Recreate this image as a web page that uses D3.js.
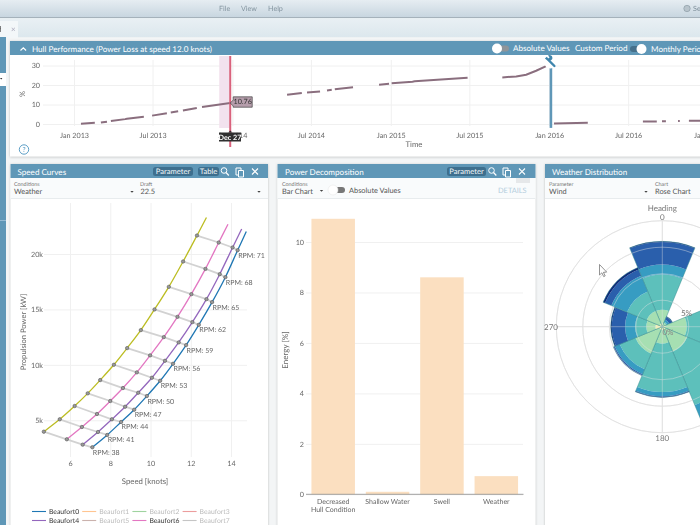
<!DOCTYPE html>
<html>
<head>
<meta charset="utf-8">
<script src="https://cdn.jsdelivr.net/npm/d3@7"></script>
<style>
html, body { margin: 0; padding: 0; width: 700px; height: 525px; overflow: hidden; background: #f3f5f6; }
text { font-family: Lato, sans-serif; text-rendering: geometricPrecision; }
#app { filter: blur(0.3px); }
</style>
</head>
<body>
<svg id="app" width="700" height="525"></svg>
<script>
// hull performance runs, null value = gap in the line
const hullRun2013 = [["2013-01-17",0.1],["2013-02-18",0.6],["2013-03-04",null],["2013-03-04",0.8],["2013-03-18",1.2],["2013-03-27",null],["2013-03-27",1.5],["2013-04-29",2.5],["2013-05-03",2.7],["2013-06-11",3.7],["2013-06-30",null],["2013-06-30",4.3],["2013-08-03",5.5],["2013-08-12",null],["2013-08-12",5.9],["2013-08-29",6.5],["2013-09-09",null],["2013-09-09",6.9],["2013-10-11",8.2],["2013-10-23",null],["2013-10-23",8.7],["2013-12-27",10.76]];
const hullRun2014 = [["2014-05-07",15],["2014-06-10",15.9],["2014-06-22",null],["2014-06-22",16.2],["2014-07-22",16.7],["2014-08-07",null],["2014-08-07",17.2],["2014-08-18",17.6],["2014-08-25",null],["2014-08-25",17.8],["2014-10-06",18.9]];
const hullRun2015 = [["2014-12-05",20.1],["2014-12-28",20.6],["2015-01-03",null],["2015-01-03",20.9],["2015-02-20",21.7],["2015-02-25",21.9],["2015-06-27",23.7]];
const hullRunDock = [["2015-09-15",23.9],["2015-10-17",24.4],["2015-11-09",25.3],["2015-12-02",27.3],["2015-12-25",29.7]];
const hullRun2016 = [["2016-01-12",0.2],["2016-03-30",0.7],["2016-04-10",null],["2016-08-04",1.3],["2016-09-05",1.3],["2016-09-10",null],["2016-09-17",1.4],["2016-09-26",1.4],["2016-10-10",null],["2016-10-24",1.6],["2016-10-28",1.6],["2016-11-05",null],["2016-11-18",1.7],["2016-12-18",1.7]];
const hullTicks = ["2013-01-01","2013-07-01","2014-01-01","2014-07-01","2015-01-01","2015-07-01","2016-01-01","2016-07-01","2017-01-01"];
const hullPctTicks = [0,10,20,30];
const dockingDate = "2016-01-05";
const selectedDate = "2013-12-27";
const selectedValue = 10.76;

// speed curves, one point per rpm (last value of each list is the curve end)
const rpmValues = [38,41,44,47,50,53,56,59,62,65,68,71];
const speedB8 = [4.70,5.49,6.23,6.88,7.50,8.18,8.84,9.52,10.20,10.91,11.62,12.31,12.78];
const powerB8 = [3973,5090,6288,7432,8631,10009,11514,13135,15000,17036,19324,21667,23290];
const speedB6 = [5.84,6.59,7.34,8.00,8.63,9.32,9.98,10.66,11.34,12.03,12.73,13.39,13.85];
const powerB6 = [3288,4396,5568,6739,7910,9324,10856,12505,14333,16378,18658,21036,22685];
const speedB4 = [6.63,7.39,8.08,8.74,9.39,10.07,10.72,11.40,12.08,12.78,13.44,14.08,14.53];
const powerB4 = [2802,3946,5090,6225,7486,8838,10369,12027,13856,15928,18180,20586,22260];
const speedB0 = [7.11,7.85,8.54,9.19,9.82,10.48,11.12,11.77,12.40,13.06,13.72,14.33,14.76];
const powerB0 = [2568,3676,4847,5955,7189,8568,10099,11784,13613,15658,17910,20342,22030];
const speedTicks = [6,8,10,12,14];
const powerTicks = [5000,10000,15000,20000];
const legendNames = ["Beaufort0","Beaufort1","Beaufort2","Beaufort3","Beaufort4","Beaufort5","Beaufort6","Beaufort7"];
const legendColors = ["#1f77b4","#ff7f0e","#2ca02c","#d62728","#9467bd","#8c564b","#e377c2","#7f7f7f"];
const legendActive = ["Beaufort0","Beaufort4","Beaufort6"];

// power decomposition
const lossNames = ["Decreased Hull Condition","Shallow Water","Swell","Weather"];
const lossValues = [10.92,0.1,8.6,0.72];
const energyTicks = [0,2,4,6,8,10];

// wind rose, percent per heading sector
const roseHeadings = [0,45,90,135,180,225,270,315];
const roseBand1 = [0.6,0.4,0.6,0.6,0.6,0.6,1.3,0.6];
const roseBand2 = [2.6,0.4,4.0,4.5,2.6,4.9,1.7,2.6];
const roseBand3 = [6.6,0.2,13.4,10.9,9.1,3.2,2.1,4.0];
const roseBand4 = [1.9,0.4,3.8,3.8,0.8,1.0,1.9,3.2];
const roseBand5 = [4.3,0.6,1.9,2.5,0.1,0.2,2.5,1.3];
const roseBand6 = [0.1,0.1,0.2,0.2,0.1,0.1,0.2,0.4];
const roseRings = [5,10,15,20];

const HEAD = "#5f97b7", GREY = "#666", GRID = "#f0f0f0";
const svg = d3.select("#app");
const parse = d3.timeParse("%Y-%m-%d");

function txt(g, x, y, s, size, fill, anchor) {
  return g.append("text").attr("x", x).attr("y", y).text(s)
    .attr("font-size", size).attr("fill", fill || GREY).attr("text-anchor", anchor || "start");
}

// window chrome
const defs = svg.append("defs");
const topGrad = defs.append("linearGradient").attr("id", "topbar").attr("x2", 0).attr("y2", 1);
topGrad.append("stop").attr("offset", 0).attr("stop-color", "#e6edf2");
topGrad.append("stop").attr("offset", 1).attr("stop-color", "#c8d6e0");
const tabGrad = defs.append("linearGradient").attr("id", "tabbar").attr("x2", 0).attr("y2", 1);
tabGrad.append("stop").attr("offset", 0).attr("stop-color", "#e9f0f4");
tabGrad.append("stop").attr("offset", 1).attr("stop-color", "#dce7ed");
const shadow = defs.append("filter").attr("id", "shadow").attr("x", "-2%").attr("y", "-2%").attr("width", "104%").attr("height", "104%");
shadow.append("feDropShadow").attr("dx", 0).attr("dy", 0.5).attr("stdDeviation", 0.8).attr("flood-color", "#999").attr("flood-opacity", 0.6);

svg.append("rect").attr("width", 700).attr("height", 17).attr("fill", "url(#topbar)");
svg.append("rect").attr("y", 17).attr("width", 700).attr("height", 1.2).attr("fill", "#a5b2bb");
svg.append("rect").attr("y", 18.2).attr("width", 700).attr("height", 19).attr("fill", "url(#tabbar)");
svg.append("rect").attr("y", 21).attr("width", 18).attr("height", 17).attr("fill", "#f3f7f9");
txt(svg, -3, 32, "d", 8, "#555");
txt(svg, 11, 32, "×", 8, "#aab");
[["File",219],["View",241],["Help",268]].forEach(d => txt(svg, d[1], 11, d[0], 7.2, "#8495a0"));
svg.append("circle").attr("cx", 687).attr("cy", 8.5).attr("r", 3.2).attr("fill", "#b8c4cc").attr("stroke", "#8495a0").attr("stroke-width", 0.6);
txt(svg, 693, 11, "Se", 7.2, "#7d8e99");
svg.append("rect").attr("y", 37).attr("width", 6).attr("height", 488).attr("fill", HEAD);
svg.append("rect").attr("y", 73).attr("width", 6).attr("height", 13).attr("fill", "#fff");
svg.append("path").attr("d", "M0,78h2.4l-1.2,1.6z").attr("fill", "#333");
svg.append("rect").attr("y", 220).attr("width", 6).attr("height", 0.5).attr("fill", "#cde");

function panel(x, y, w, h) {
  const g = svg.append("g");
  g.append("rect").attr("x", x).attr("y", y).attr("width", w).attr("height", h).attr("fill", "#fff").attr("filter", "url(#shadow)");
  g.append("rect").attr("x", x).attr("y", y).attr("width", w).attr("height", 14).attr("fill", HEAD);
  return g;
}

function button(g, x, w, s) {
  g.append("rect").attr("x", x).attr("y", 167).attr("width", w).attr("height", 9).attr("rx", 2.5).attr("fill", "#3e6f8e");
  txt(g, x + w / 2, 174.3, s, 7.6, "#f2f6f8", "middle");
}

function icons(g, xs) {
  // magnifier, copy, close
  g.append("circle").attr("cx", xs[0]).attr("cy", 170.5).attr("r", 2.8).attr("fill", "none").attr("stroke", "#fff").attr("stroke-width", 1);
  g.append("path").attr("d", `M${xs[0] + 2},${172.5}l2.8,3`).attr("stroke", "#fff").attr("stroke-width", 1.2);
  g.append("path").attr("d", `M${xs[1] - 4},${168}h5v7h-5z`).attr("fill", "none").attr("stroke", "#fff").attr("stroke-width", 1);
  g.append("path").attr("d", `M${xs[1] - 1.5},${170.5}h5v6.5h-5z`).attr("fill", HEAD).attr("stroke", "#fff").attr("stroke-width", 1);
  g.append("path").attr("d", `M${xs[2] - 3},${168.5}l6,6m0,-6l-6,6`).attr("stroke", "#fff").attr("stroke-width", 1.1);
}

function controls(g, x, w) {
  g.append("rect").attr("x", x).attr("y", 178).attr("width", w).attr("height", 21).attr("fill", "#f9fbfc");
  g.append("rect").attr("x", x).attr("y", 198).attr("width", w).attr("height", 1).attr("fill", "#e8ecee");
}

function caret(g, x, y) {
  g.append("path").attr("d", `M${x - 1.7},${y}h3.4l-1.7,1.8z`).attr("fill", "#444");
}

// ---------- hull performance ----------
const hp = panel(10, 41, 700, 115.5);
hp.append("path").attr("d", "M20.5,50.5l2.8,-2.6l2.8,2.6").attr("fill", "none").attr("stroke", "#fff").attr("stroke-width", 1.2);
txt(hp, 32, 51.5, "Hull Performance (Power Loss at speed 12.0 knots)", 8.1, "#fff");
hp.append("rect").attr("x", 494).attr("y", 45.5).attr("width", 15).attr("height", 6).attr("rx", 3).attr("fill", "#8f959a");
hp.append("circle").attr("cx", 497).attr("cy", 48.5).attr("r", 5).attr("fill", "#fff");
txt(hp, 513, 51, "Absolute Values", 8.1, "#fff");
txt(hp, 575, 51, "Custom Period", 8.1, "#fff");
hp.append("rect").attr("x", 630).attr("y", 46).attr("width", 15).attr("height", 6).attr("rx", 3).attr("fill", "#46708b");
hp.append("circle").attr("cx", 641.5).attr("cy", 49).attr("r", 5).attr("fill", "#fff");
txt(hp, 651, 52, "Monthly Period", 8.1, "#fff");

const hullX = d3.scaleTime().domain([parse("2013-01-01"), parse("2017-01-01")]).range([74, 708]);
const hullY = d3.scaleLinear().domain([0, 30]).range([124, 65.5]);

const hullXAxis = hp.append("g").attr("transform", "translate(0,126)")
  .call(d3.axisBottom(hullX).tickValues(hullTicks.map(parse)).tickFormat(d3.timeFormat("%b %Y")).tickSize(-66).tickPadding(6.5));
const hullYAxis = hp.append("g").attr("transform", "translate(43,0)")
  .call(d3.axisLeft(hullY).tickValues(hullPctTicks).tickSize(-657).tickPadding(3));
[hullXAxis, hullYAxis].forEach(a => {
  a.select(".domain").remove();
  a.selectAll("line").attr("stroke", GRID);
  a.selectAll("text").attr("font-size", 7.2).attr("fill", GREY);
});
txt(hp, 414, 146.5, "Time", 7.8, GREY, "middle");
txt(hp, 0, 0, "%", 7.5, GREY, "middle").attr("transform", "translate(25,94) rotate(-90)");

const selX = hullX(parse(selectedDate));
hp.append("rect").attr("x", selX - 11).attr("y", 56).attr("width", 10.5).attr("height", 72).attr("fill", "#f2e2ee");

const hullLine = d3.line().defined(d => d[1] !== null).x(d => hullX(parse(d[0]))).y(d => hullY(d[1]));
[hullRun2013, hullRun2014, hullRun2015, hullRunDock, hullRun2016].forEach(run => {
  hp.append("path").attr("d", hullLine(run)).attr("fill", "none").attr("stroke", "#8a6e7e").attr("stroke-width", 2);
});

const dockX = hullX(parse(dockingDate));
hp.append("line").attr("x1", dockX).attr("x2", dockX).attr("y1", hullY(29)).attr("y2", hullY(-2)).attr("stroke", HEAD).attr("stroke-width", 2.6);
hp.append("circle").attr("cx", dockX - 0.5).attr("cy", 62).attr("r", 6.5).attr("fill", "#fff");
// wrench
hp.append("path").attr("d", `M${dockX - 2.5},${60}L${dockX + 3.5},${66}`).attr("stroke", "#3f86ad").attr("stroke-width", 2.4).attr("stroke-linecap", "round");
hp.append("path").attr("d", `M${dockX - 6},${58.5}l1.8,-1.8l1.7,1.7l1.2,-1.2l-1.7,-1.7l1.8,-.5q3.2,.6 2.6,4l-1.5,1.6q-3.6,.6 -5.9,-2.1z`).attr("fill", "#3f86ad");

hp.append("line").attr("x1", selX).attr("x2", selX).attr("y1", 56).attr("y2", 147).attr("stroke", "#d9627c").attr("stroke-width", 2);

// value tag and date tag
const tagY = hullY(selectedValue);
hp.append("path").attr("d", `M${selX},${tagY}l3,-3v-3.2h19v10.4h-19v-1.2z`).attr("fill", "#b59dab").attr("stroke", "#444").attr("stroke-width", 0.7);
txt(hp, selX + 12.5, tagY + 1.3, d3.format(".2f")(selectedValue), 7.2, "#333", "middle");
hp.append("rect").attr("x", 219).attr("y", 132.5).attr("width", 22).attr("height", 9).attr("fill", "#2f2f2f");
hp.append("path").attr("d", `M${selX - 2},132.5l2,-2l2,2z`).attr("fill", "#2f2f2f");
txt(hp, 230, 139.8, "Dec 27", 7.2, "#fff", "middle").attr("font-weight", 700);

hp.append("circle").attr("cx", 24).attr("cy", 149.5).attr("r", 4.7).attr("fill", "none").attr("stroke", "#4a93bf").attr("stroke-width", 0.9);
txt(hp, 24, 152, "?", 7, "#4a93bf", "middle");

// ---------- speed curves ----------
const sc = panel(10.5, 164, 257.5, 370);
txt(sc, 17.5, 174.5, "Speed Curves", 8.1, "#fff");
button(sc, 153, 40, "Parameter");
button(sc, 198, 21, "Table");
icons(sc, [224, 240, 255]);
controls(sc, 10.5, 257.5);
txt(sc, 14, 185.5, "Conditions", 5.4, "#777");
txt(sc, 14, 194, "Weather", 7.4, "#555");
caret(sc, 132, 191);
txt(sc, 140, 185.5, "Draft", 5.4, "#777");
txt(sc, 140.5, 194, "22.5", 7.4, "#555");
caret(sc, 259, 191);

const speedX = d3.scaleLinear().domain([6, 14]).range([70, 231]);
const powerY = d3.scaleLinear().domain([5000, 20000]).range([420.3, 254]);
const scXAxis = sc.append("g").attr("transform", "translate(0,457)")
  .call(d3.axisBottom(speedX).tickValues(speedTicks).tickSize(-254).tickPadding(4));
const scYAxis = sc.append("g").attr("transform", "translate(44,0)")
  .call(d3.axisLeft(powerY).tickValues(powerTicks).tickFormat(d3.format("~s")).tickSize(-203).tickPadding(1));
[scXAxis, scYAxis].forEach(a => {
  a.select(".domain").remove();
  a.selectAll("line").attr("stroke", GRID);
  a.selectAll("text").attr("font-size", 7.2).attr("fill", GREY);
});
txt(sc, 145, 484, "Speed [knots]", 7.8, GREY, "middle");
txt(sc, 0, 0, "Propulsion Power [kW]", 7.6, GREY, "middle").attr("transform", "translate(26,332) rotate(-90)");

const curves = [
  {speed: speedB8, power: powerB8, color: "#bcbd22"},
  {speed: speedB6, power: powerB6, color: "#e377c2"},
  {speed: speedB4, power: powerB4, color: "#9467bd"},
  {speed: speedB0, power: powerB0, color: "#1f77b4"}
];
// rpm cross lines first, the speed curves go on top
rpmValues.forEach((rpm, i) => {
  const pts = curves.map(c => [speedX(c.speed[i]), powerY(c.power[i])]);
  sc.append("path").attr("d", d3.line()(pts)).attr("fill", "none").attr("stroke", "#d2d2d2").attr("stroke-width", 1.8);
});
curves.forEach(c => {
  const pts = c.speed.map((s, i) => [speedX(s), powerY(c.power[i])]);
  sc.append("path").attr("d", d3.line().curve(d3.curveCatmullRom)(pts)).attr("fill", "none").attr("stroke", c.color).attr("stroke-width", 1.3);
});
rpmValues.forEach((rpm, i) => {
  curves.forEach(c => {
    sc.append("circle").attr("cx", speedX(c.speed[i])).attr("cy", powerY(c.power[i])).attr("r", 1.7)
      .attr("fill", "#999").attr("stroke", "#555").attr("stroke-width", 0.6);
  });
  txt(sc, speedX(speedB0[i]) + 0.5, powerY(powerB0[i]) + 7.5, "RPM: " + rpm, 7, GREY);
});

legendNames.forEach((name, i) => {
  const lx = 32 + (i % 4) * 50.2, ly = 511.5 + Math.floor(i / 4) * 9;
  const on = legendActive.includes(name);
  sc.append("line").attr("x1", lx).attr("x2", lx + 14).attr("y1", ly).attr("y2", ly)
    .attr("stroke", legendColors[i]).attr("stroke-width", 1.1).attr("opacity", on ? 1 : 0.45);
  txt(sc, lx + 17, ly + 2.3, name, 6.8, on ? "#333" : "#bbb");
});

// ---------- power decomposition ----------
const pd = panel(277.5, 164, 258, 370);
txt(pd, 285, 174.5, "Power Decomposition", 8.1, "#fff");
button(pd, 447, 39, "Parameter");
icons(pd, [491.5, 507, 522]);
controls(pd, 277.5, 258);
pd.append("rect").attr("x", 516).attr("y", 178).attr("width", 14).attr("height", 5).attr("fill", "#e6e8ea");
txt(pd, 282, 185.5, "Conditions", 5.4, "#777");
txt(pd, 282, 194, "Bar Chart", 7.4, "#555");
caret(pd, 321.5, 190);
pd.append("rect").attr("x", 331).attr("y", 187).attr("width", 14).attr("height", 6).attr("rx", 3).attr("fill", "#777");
pd.append("circle").attr("cx", 333).attr("cy", 190).attr("r", 5).attr("fill", "#fff").attr("stroke", "#e4e4e4").attr("stroke-width", 0.5);
txt(pd, 349, 192.5, "Absolute Values", 7.4, "#555");
txt(pd, 498, 193, "DETAILS", 7.4, "#b3cddd");

const lossX = d3.scaleBand().domain(lossNames).range([306, 523.5]).paddingInner(0.2).paddingOuter(0.1);
const energyY = d3.scaleLinear().domain([0, 10]).range([494.3, 242]);
const pdYAxis = pd.append("g").attr("transform", "translate(306,0)")
  .call(d3.axisLeft(energyY).tickValues(energyTicks).tickSize(-217).tickPadding(2));
pdYAxis.select(".domain").remove();
pdYAxis.selectAll("line").attr("stroke", GRID);
pdYAxis.selectAll("text").attr("font-size", 7.2).attr("fill", GREY);
pd.selectAll(".bar").data(lossNames).join("rect").attr("class", "bar")
  .attr("x", d => lossX(d)).attr("width", lossX.bandwidth())
  .attr("y", (d, i) => energyY(lossValues[i])).attr("height", (d, i) => energyY(0) - energyY(lossValues[i]))
  .attr("fill", "#fbdfc0");
pd.append("line").attr("x1", 306).attr("x2", 523.5).attr("y1", energyY(0)).attr("y2", energyY(0)).attr("stroke", "#8a8a8a").attr("stroke-width", 0.8);
const lossLines = [["Decreased", "Hull Condition"], ["Shallow Water"], ["Swell"], ["Weather"]];
lossNames.forEach((name, i) => {
  lossLines[i].forEach((s, j) => txt(pd, lossX(name) + lossX.bandwidth() / 2, 503.5 + j * 8, s, 7, GREY, "middle"));
});
txt(pd, 0, 0, "Energy [%]", 8, GREY, "middle").attr("transform", "translate(288,350) rotate(-90)");

// ---------- weather distribution ----------
const wd = panel(545, 164, 170, 370);
txt(wd, 552, 174.5, "Weather Distribution", 8.1, "#fff");
controls(wd, 545, 170);
txt(wd, 549, 185.5, "Parameter", 5.4, "#777");
txt(wd, 549, 194, "Wind", 7.4, "#555");
caret(wd, 646, 191);
txt(wd, 655, 185.5, "Chart", 5.4, "#777");
txt(wd, 655, 194, "Rose Chart", 7.4, "#555");

const roseG = wd.append("g").attr("transform", "translate(662.3,326.7)");
const roseR = d3.scaleLinear().domain([0, 20]).range([0, 106]);
const roseBands = [
  {values: roseBand1, color: "#f6f3b5"},
  {values: roseBand2, color: "#a6dfb2"},
  {values: roseBand3, color: "#5dc0bb"},
  {values: roseBand4, color: "#379cc2"},
  {values: roseBand5, color: "#2a5fac"},
  {values: roseBand6, color: "#0d2a78"}
];
const sector = d3.arc();
const ringBase = roseRings.map(v => roseR(v));
ringBase.forEach(r => roseG.append("circle").attr("r", r).attr("fill", "none").attr("stroke", "#dedede").attr("stroke-width", 0.9));
[0, 90].forEach(a => {
  roseG.append("line").attr("x1", a ? -106 : 0).attr("x2", a ? 106 : 0).attr("y1", a ? 0 : -106).attr("y2", a ? 0 : 106)
    .attr("stroke", "#dedede").attr("stroke-width", 0.9);
});
roseHeadings.forEach((h, i) => {
  let acc = 0;
  const start = (h - 22.5) * Math.PI / 180, end = (h + 22.5) * Math.PI / 180;
  roseBands.forEach(b => {
    const next = acc + b.values[i];
    roseG.append("path")
      .attr("d", sector({innerRadius: roseR(acc), outerRadius: roseR(next), startAngle: start, endAngle: end}))
      .attr("fill", b.color);
    acc = next;
  });
  roseG.append("path")
    .attr("d", sector({innerRadius: 0, outerRadius: roseR(acc), startAngle: start, endAngle: end}))
    .attr("fill", "none").attr("stroke", "#3b8f92").attr("stroke-width", 0.5);
});
// grid shows faintly through the sectors
ringBase.forEach(r => roseG.append("circle").attr("r", r).attr("fill", "none").attr("stroke", "#e4e4e4").attr("stroke-opacity", 0.55).attr("stroke-width", 0.8));
[0, 90].forEach(a => {
  roseG.append("line").attr("x1", a ? -106 : 0).attr("x2", a ? 106 : 0).attr("y1", a ? 0 : -106).attr("y2", a ? 0 : 106)
    .attr("stroke", "#e4e4e4").attr("stroke-opacity", 0.5).attr("stroke-width", 0.8);
});
txt(wd, 662.3, 211.3, "Heading", 8, "#777", "middle");
txt(wd, 662.3, 220, "0", 8, "#777", "middle");
txt(wd, 551, 329.7, "270", 8, "#777", "middle");
txt(wd, 662.3, 441, "180", 8, "#777", "middle");
txt(wd, 686.5, 316, "5%", 8, "#777", "middle");
txt(wd, 668, 335, "0%", 8, "#888", "middle");

// mouse pointer left in the screenshot
svg.append("path").attr("d", "M599.5,264.5v10.5l2.4,-2.2l1.8,3.8l1.5,-.7l-1.8,-3.6l3.3,-.2z").attr("fill", "#fff").attr("stroke", "#666").attr("stroke-width", 0.7);
</script>
</body>
</html>
